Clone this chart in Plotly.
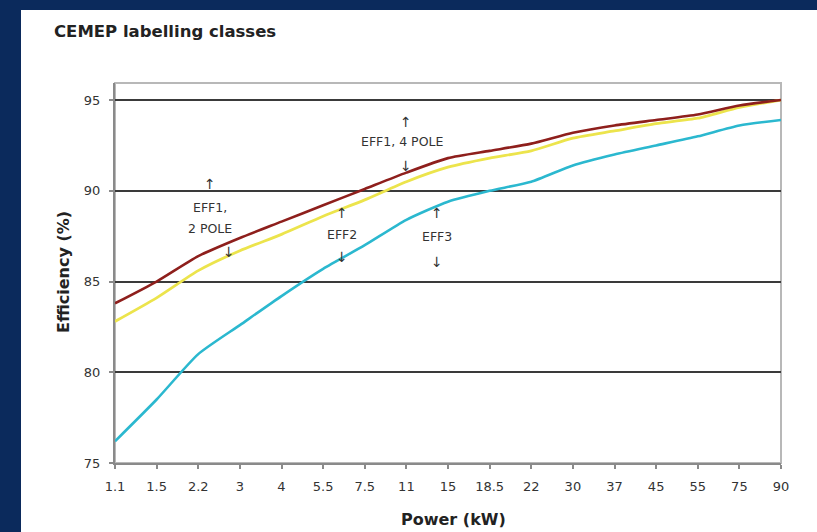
import plotly.graph_objects as go

power_kw = ["1.1", "1.5", "2.2", "3", "4", "5.5", "7.5", "11", "15", "18.5",
            "22", "30", "37", "45", "55", "75", "90"]
eff1_4pole = [83.8, 85.0, 86.4, 87.4, 88.3, 89.2, 90.1, 91.0, 91.8, 92.2,
              92.6, 93.2, 93.6, 93.9, 94.2, 94.7, 95.0]
eff1_2pole = [82.8, 84.1, 85.6, 86.7, 87.6, 88.6, 89.5, 90.5, 91.3, 91.8,
              92.2, 92.9, 93.3, 93.7, 94.0, 94.6, 95.0]
eff2_limit = [76.2, 78.5, 81.0, 82.6, 84.2, 85.7, 87.0, 88.4, 89.4, 90.0,
              90.5, 91.4, 92.0, 92.5, 93.0, 93.6, 93.9]

NAVY = "#0b2a5c"
FONT = "DejaVu Sans, Verdana, sans-serif"
TXT = "#333333"

W, H = 817, 532
L, R, T, B = 115, 36, 83, 69
pw, ph = W - L - R, H - T - B
def px(xp):
    return (xp - L) / pw
def py(yp):
    return (H - B - yp) / ph

fig = go.Figure()
fig.add_trace(go.Scatter(x=power_kw, y=eff2_limit, mode="lines",
                         line=dict(color="#2bb8cf", width=2.6, shape="spline", smoothing=0.6)))
fig.add_trace(go.Scatter(x=power_kw, y=eff1_2pole, mode="lines",
                         line=dict(color="#ece44c", width=2.8, shape="spline", smoothing=0.6)))
fig.add_trace(go.Scatter(x=power_kw, y=eff1_4pole, mode="lines",
                         line=dict(color="#8e1f1c", width=2.6, shape="spline", smoothing=0.6)))

# annotation labels (x = category index, y = data value)
labels = [
    (2.28, 90.4, "↑"), (2.28, 89.1, "EFF1,"), (2.28, 87.95, "2 POLE"), (2.74, 86.6, "↓"),
    (6.99, 93.8, "↑"), (6.9, 92.7, "EFF1, 4 POLE"), (6.99, 91.35, "↓"),
    (5.46, 88.75, "↑"), (5.46, 87.6, "EFF2"), (5.46, 86.35, "↓"),
    (7.74, 88.75, "↑"), (7.74, 87.5, "EFF3"), (7.74, 86.1, "↓"),
]
annotations = []
for ax_, ay_, t in labels:
    arrow = t in ("↑", "↓")
    annotations.append(dict(x=ax_, y=ay_, xref="x", yref="y", text=t, showarrow=False,
                            font=dict(family=FONT, size=14 if arrow else 12.5, color=TXT)))

annotations += [
    dict(x=px(52), y=py(31), xref="paper", yref="paper", text="<b>CEMEP labelling classes</b>",
         showarrow=False, xanchor="left", yanchor="middle",
         font=dict(family=FONT, size=16.5, color="#222222")),
    dict(x=px(453), y=py(519), xref="paper", yref="paper", text="<b>Power (kW)</b>",
         showarrow=False, xanchor="center", yanchor="middle",
         font=dict(family=FONT, size=16, color="#222222")),
    dict(x=px(63), y=py(272), xref="paper", yref="paper", text="<b>Efficiency (%)</b>",
         showarrow=False, xanchor="center", yanchor="middle", textangle=-90,
         font=dict(family=FONT, size=16, color="#222222")),
]

fig.update_layout(
    width=W, height=H,
    margin=dict(l=L, r=R, t=T, b=B),
    paper_bgcolor=NAVY,
    plot_bgcolor="white",
    showlegend=False,
    annotations=annotations,
    shapes=[
        dict(type="rect", xref="paper", yref="paper", x0=px(21), x1=px(W + 5),
             y0=py(H + 5), y1=py(10), fillcolor="white", line=dict(width=0), layer="below"),
        dict(type="rect", xref="paper", yref="paper", x0=0, x1=1, y0=0, y1=1,
             line=dict(color="#b8b8b8", width=2), layer="below"),
    ],
    xaxis=dict(
        type="category", range=[0, len(power_kw) - 1],
        showgrid=False, showline=True, linecolor="#8a8a8a", linewidth=2,
        ticks="outside", ticklen=4, tickwidth=1.5, tickcolor="#8a8a8a",
        ticklabelstandoff=6,
        tickfont=dict(family=FONT, size=13, color=TXT),
        zeroline=False, fixedrange=True,
    ),
    yaxis=dict(
        range=[75, 95.94], dtick=5, tick0=75,
        showgrid=True, gridcolor="#3a3a3a", gridwidth=1.6,
        showline=True, linecolor="#8a8a8a", linewidth=2,
        ticks="outside", ticklen=4, tickwidth=1.5, tickcolor="#8a8a8a",
        ticklabelstandoff=6,
        tickfont=dict(family=FONT, size=13, color=TXT),
        zeroline=False, fixedrange=True,
    ),
)

fig.write_html("out.html", config={"displayModeBar": False}, post_script=[
    "document.body.style.margin='0';document.body.style.background='%s';" % NAVY
])
